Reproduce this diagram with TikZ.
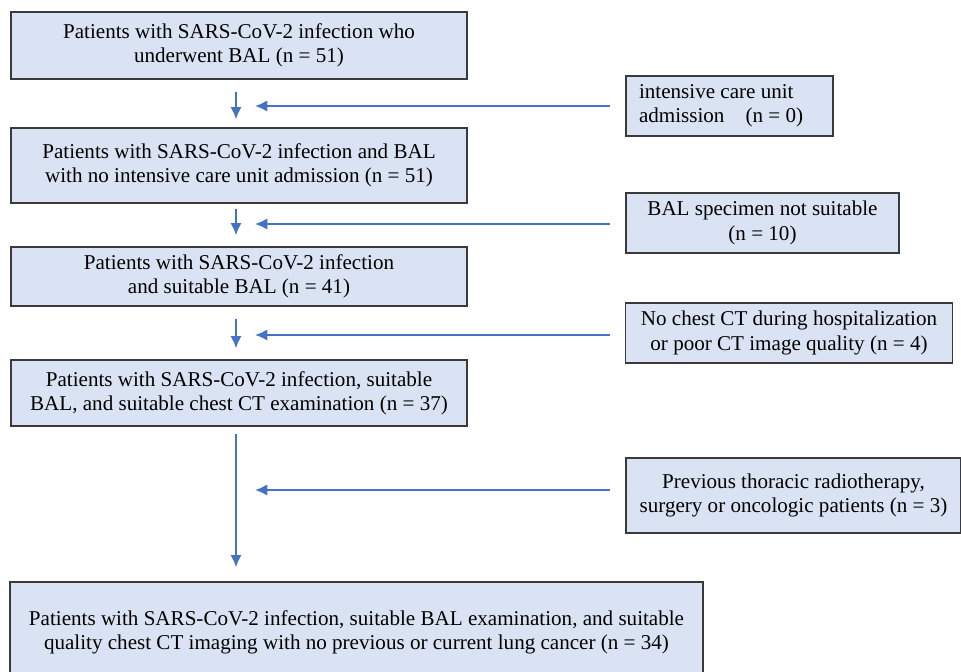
\documentclass[tikz,border=0pt]{standalone}
\usepackage{fontspec}
\setmainfont{Liberation Serif}
\usetikzlibrary{arrows.meta}
\definecolor{boxfill}{HTML}{DAE3F3}
\definecolor{boxline}{HTML}{3A3A3A}
\definecolor{flow}{HTML}{4472C4}
\tikzset{>={Latex[length=7pt,width=6.5pt]}}
\tikzset{
  stage/.style = {draw=boxline, fill=boxfill, line width=0.8pt,
    align=center, inner sep=0pt, font=\fontsize{12pt}{13.8pt}\selectfont},
  excl/.style = {stage},
  flowarrow/.style = {->, flow, line width=1.2pt}
}

\begin{document}
\begin{tikzpicture}[x=0.02cm,y=-0.02cm]
  \useasboundingbox (0,0) rectangle (961,672);
  % main path
  \node[stage, minimum width=9.12cm, minimum height=1.34cm] (b1) at (239,45.5)
    {Patients with SARS-CoV-2 infection who\\underwent BAL (n = 51)};
  \node[stage, minimum width=9.12cm, minimum height=1.5cm] (b2) at (239,165.5)
    {Patients with SARS-CoV-2 infection and BAL\\with no intensive care unit admission (n = 51)};
  \node[stage, minimum width=9.12cm, minimum height=1.18cm] (b3) at (239,276.5)
    {Patients with SARS-CoV-2 infection\\and suitable BAL (n = 41)};
  \node[stage, minimum width=9.12cm, minimum height=1.32cm] (b4) at (239,393)
    {Patients with SARS-CoV-2 infection, suitable\\BAL, and suitable chest CT examination (n = 37)};
  \node[stage, minimum width=13.86cm, minimum height=2cm] (b5) at (356.5,632)
    {Patients with SARS-CoV-2 infection, suitable BAL examination, and suitable\\quality chest CT imaging with no previous or current lung cancer (n = 34)};
  % exclusions
  \node[excl, align=flush left, text width=3.62cm, inner xsep=0.26cm, minimum height=1.2cm] (r1) at (729.5,106)
    {intensive care unit\\admission\quad(n = 0)};
  \node[excl, minimum width=5.46cm, minimum height=1.2cm] (r2) at (762.5,223)
    {BAL specimen not suitable\\(n = 10)};
  \node[excl, minimum width=6.54cm, minimum height=1.2cm] (r3) at (789,333)
    {No chest CT during hospitalization\\or poor CT image quality (n = 4)};
  \node[excl, minimum width=6.7cm, minimum height=1.5cm] (r4) at (793.5,495.5)
    {Previous thoracic radiotherapy,\\surgery or oncologic patients (n = 3)};

  \coordinate (e1) at (255,106);
  \coordinate (e2) at (255,224);
  \coordinate (e3) at (255,335);
  \coordinate (e4) at (255,490);

  \draw[flowarrow, shorten <=0.24cm, shorten >=0.16cm] ([xshift=-0.06cm]b1.south) -- ([xshift=-0.06cm]b2.north);
  \draw[flowarrow, shorten <=0.1cm, shorten >=0.22cm] ([xshift=-0.06cm]b2.south) -- ([xshift=-0.06cm]b3.north);
  \draw[flowarrow, shorten <=0.24cm, shorten >=0.22cm] ([xshift=-0.06cm]b3.south) -- ([xshift=-0.06cm]b4.north);
  \draw[flowarrow, shorten <=0.14cm, shorten >=0.28cm] ([xshift=-0.06cm]b4.south) -- ([xshift=-0.06cm]b4.south |- b5.north);

  \draw[flowarrow, shorten <=0.3cm] (r1.west |- e1) -- (e1);
  \draw[flowarrow, shorten <=0.3cm] (r2.west |- e2) -- (e2);
  \draw[flowarrow, shorten <=0.3cm] (r3.west |- e3) -- (e3);
  \draw[flowarrow, shorten <=0.3cm] (r4.west |- e4) -- (e4);
\end{tikzpicture}
\end{document}
